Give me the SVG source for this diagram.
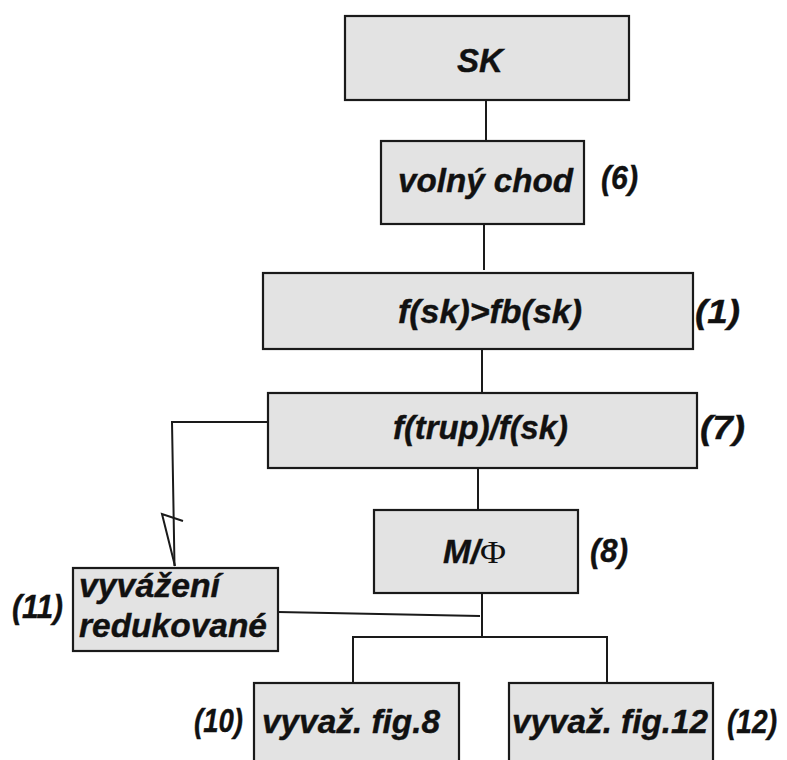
<svg xmlns="http://www.w3.org/2000/svg" width="787" height="760" viewBox="0 0 787 760">
<style>
.box{fill:#e3e3e3;stroke:#1a1a1a;stroke-width:2.2}
.ln{fill:none;stroke:#1a1a1a;stroke-width:2}
text{font-family:"Liberation Sans",Arial,sans-serif;font-weight:bold;font-style:italic;font-size:33px;fill:#111;stroke:#111;stroke-width:0.4}
.lbl{font-size:34px}
.phi{font-family:"Liberation Serif","Times New Roman",serif;font-weight:normal;font-style:normal;font-size:32px;stroke-width:0}
</style>
<rect width="787" height="760" fill="#fff"/>
<g id="connectors">
<line class="ln" x1="486" y1="100" x2="486" y2="141"/>
<line class="ln" x1="484" y1="224" x2="484" y2="270"/>
<line class="ln" x1="482" y1="349" x2="482" y2="393"/>
<line class="ln" x1="478" y1="468" x2="478" y2="510"/>
<polyline class="ln" points="268,422 172,422 174.5,566"/>
<polyline class="ln" points="183,521 162,514 175,566"/>
<line class="ln" x1="278" y1="612" x2="480" y2="616"/>
<line class="ln" x1="482" y1="593" x2="482" y2="637"/>
<polyline class="ln" points="353,683 353,637 607,637 607,683"/>
</g>
<g id="n-sk"><rect class="box" x="345" y="16" width="284" height="84"/><text x="457" y="72" textLength="46" lengthAdjust="spacingAndGlyphs">SK</text></g>
<g id="n-volny"><rect class="box" x="381" y="141" width="203" height="83"/><text x="398" y="192" textLength="175" lengthAdjust="spacingAndGlyphs">volný chod</text></g>
<g id="l6"><text class="lbl" x="601" y="189" textLength="37" lengthAdjust="spacingAndGlyphs">(6)</text></g>
<g id="n-f1"><rect class="box" x="263" y="273" width="430" height="76"/><text x="398" y="323" textLength="184" lengthAdjust="spacingAndGlyphs">f(sk)&gt;fb(sk)</text></g>
<g id="l1"><text class="lbl" x="695" y="323" textLength="45" lengthAdjust="spacingAndGlyphs">(1)</text></g>
<g id="n-f7"><rect class="box" x="268" y="393" width="429" height="75"/><text x="393" y="439" textLength="175" lengthAdjust="spacingAndGlyphs">f(trup)/f(sk)</text></g>
<g id="l7"><text class="lbl" x="700" y="439" textLength="45" lengthAdjust="spacingAndGlyphs">(7)</text></g>
<g id="n-m"><rect class="box" x="374" y="510" width="204" height="83"/><text x="443" y="563"><tspan textLength="37" lengthAdjust="spacingAndGlyphs">M/</tspan><tspan class="phi" x="480" textLength="26" lengthAdjust="spacingAndGlyphs">Φ</tspan></text></g>
<g id="l8"><text class="lbl" x="590" y="562" textLength="38" lengthAdjust="spacingAndGlyphs">(8)</text></g>
<g id="n-vyv"><rect class="box" x="73" y="568" width="205" height="83"/><text x="79" y="597" textLength="141" lengthAdjust="spacingAndGlyphs">vyvážení</text><text x="79" y="637" textLength="188" lengthAdjust="spacingAndGlyphs">redukované</text></g>
<g id="l11"><text class="lbl" x="12" y="618" textLength="51" lengthAdjust="spacingAndGlyphs">(11)</text></g>
<g id="n-fig8"><rect class="box" x="254" y="683" width="205" height="90"/><text x="262" y="733" textLength="178" lengthAdjust="spacingAndGlyphs">vyvaž. fig.8</text></g>
<g id="l10"><text class="lbl" x="194" y="732" textLength="49" lengthAdjust="spacingAndGlyphs">(10)</text></g>
<g id="n-fig12"><rect class="box" x="509" y="683" width="204" height="90"/><text x="512" y="733" textLength="196" lengthAdjust="spacingAndGlyphs">vyvaž. fig.12</text></g>
<g id="l12"><text class="lbl" x="727" y="733" textLength="50" lengthAdjust="spacingAndGlyphs">(12)</text></g>
</svg>
